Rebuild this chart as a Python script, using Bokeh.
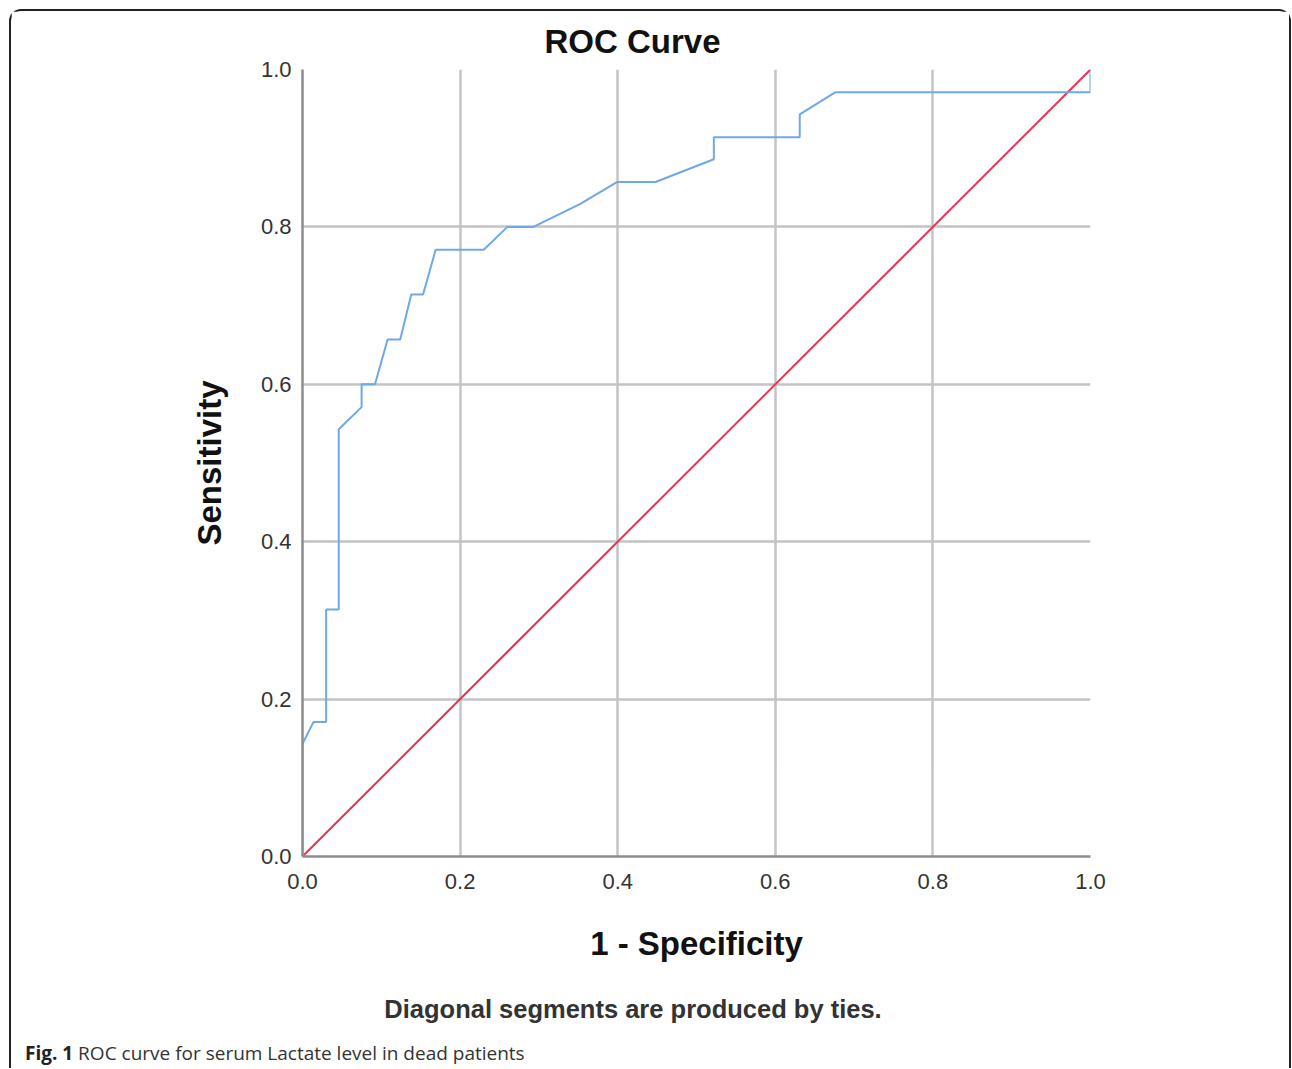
from bokeh.plotting import figure
from bokeh.models import Range1d, FixedTicker, NumeralTickFormatter, Div
from bokeh.layouts import column
from bokeh.embed import file_html
from bokeh.resources import INLINE

# ---- data ----
fpr = [0.0, 0.0, 0.014, 0.030, 0.030, 0.046, 0.046, 0.075, 0.075, 0.092,
       0.108, 0.124, 0.138, 0.153, 0.169, 0.230, 0.260, 0.293, 0.352, 0.399,
       0.448, 0.522, 0.522, 0.631, 0.631, 0.676, 1.0, 1.0]
tpr = [0.0, 0.143, 0.171, 0.171, 0.314, 0.314, 0.543, 0.571, 0.600, 0.600,
       0.657, 0.657, 0.714, 0.714, 0.771, 0.771, 0.800, 0.800, 0.829, 0.857,
       0.857, 0.886, 0.914, 0.914, 0.943, 0.971, 0.971, 1.0]
ref_x = [0.0, 1.0]
ref_y = [0.0, 1.0]
ticks = [0.0, 0.2, 0.4, 0.6, 0.8, 1.0]

title_text = "ROC Curve"
x_label = "1 - Specificity"
y_label = "Sensitivity"
note_text = "Diagonal segments are produced by ties."
cap_bold = "Fig. 1"
cap_text = "ROC curve for serum Lactate level in dead patients"

W, H = 1278, 970
p = figure(width=W, height=H, output_backend="svg", toolbar_location=None,
           x_range=Range1d(0, 1), y_range=Range1d(0, 1),
           min_border_left=291, min_border_right=W - 1079,
           min_border_top=58, min_border_bottom=H - 845)
p.outline_line_color = None
p.background_fill_color = "white"
p.border_fill_color = "white"

p.title.text = title_text
p.title.align = "left"
p.title.offset = 242
p.title.standoff = 19
p.title.text_font = "Liberation Sans"
p.title.text_font_size = "33px"
p.title.text_font_style = "bold"
p.title.text_color = "#111111"

for ax in (p.xaxis[0], p.yaxis[0]):
    ax.ticker = FixedTicker(ticks=ticks)
    ax.formatter = NumeralTickFormatter(format="0.0")
    ax.major_tick_out = 0
    ax.major_tick_in = 0
    ax.minor_tick_out = 0
    ax.minor_tick_in = 0
    ax.axis_line_color = "#8c8c8c"
    ax.axis_line_width = 2.5
    ax.major_label_text_font = "Liberation Sans"
    ax.major_label_text_font_size = "22px"
    ax.major_label_text_color = "#333333"
    ax.axis_label_text_font = "Liberation Sans"
    ax.axis_label_text_font_size = "33px"
    ax.axis_label_text_font_style = "bold"
    ax.axis_label_text_color = "#111111"

p.xaxis.axis_label = x_label
p.yaxis.axis_label = y_label
p.xaxis.major_label_standoff = 17
p.xaxis.axis_label_standoff = 33
p.yaxis.major_label_standoff = 11
p.yaxis.axis_label_standoff = 30

p.grid.ticker = FixedTicker(ticks=ticks)
p.grid.grid_line_color = "#c4c4c4"
p.grid.grid_line_width = 2.5

p.line(ref_x, ref_y, line_color="#e5344f", line_width=2)
p.line(fpr, tpr, line_color="#6fa7ec", line_width=2)

html = (
    '<div style="position:relative;width:1266px;height:87px;">'
    '<div style="position:absolute;left:0;top:13px;width:1244px;text-align:center;'
    "font-family:'Liberation Sans';font-size:25.5px;font-weight:bold;color:#333333;"
    f'line-height:30px;white-space:nowrap;">{note_text}</div>'
    '<div style="position:absolute;left:14px;top:59px;'
    "font-family:'Open Sans';font-size:19px;color:#333333;"
    f'line-height:26px;white-space:nowrap;"><b style="color:#222222">{cap_bold}</b> {cap_text}</div>'
    '</div>'
)
footer = Div(text=html, width=1266, height=87, margin=0)

layout = column(p, footer, spacing=0,
                styles={"margin-left": "9px", "margin-top": "9px",
                        "border-top": "2px solid #222222",
                        "border-left": "2px solid #222222",
                        "border-right": "2px solid #222222",
                        "border-top-left-radius": "12px",
                        "border-top-right-radius": "12px",
                        "background": "white"})

open("out.html", "w").write(file_html(layout, INLINE))
